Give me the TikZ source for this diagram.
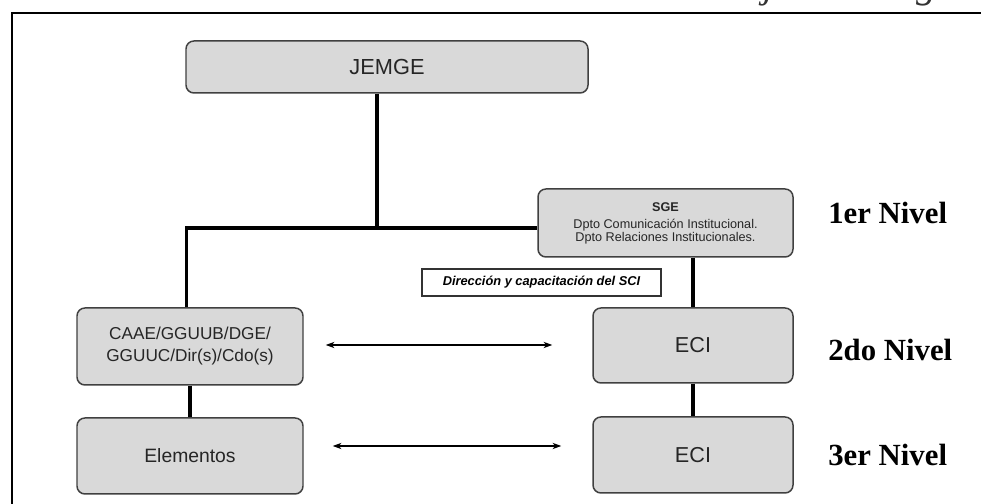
\documentclass[tikz,border=0pt]{standalone}
\usepackage{fontspec}
\setmainfont{Liberation Serif}
\setsansfont{Liberation Sans}
\usetikzlibrary{arrows.meta,calc}

\definecolor{boxgray}{HTML}{D9D9D9}
\definecolor{edgegray}{HTML}{404040}

\begin{document}
\begin{tikzpicture}[
    unit/.style={draw=edgegray, line width=0.85pt, fill=boxgray, rounded corners=4.5pt,
        text=black!85, align=center, inner sep=0pt},
    conn/.style={line width=1.9pt},
    link/.style={{Stealth[length=5pt,width=3.6pt]}-{Stealth[length=5pt,width=3.6pt]}, line width=0.6pt},
    level/.style={font=\rmfamily\bfseries\fontsize{17.5}{20}\selectfont, anchor=west, inner sep=0pt}
]
    \useasboundingbox (0,0) rectangle (19.62,10.08);
    \clip (0,0) rectangle (19.62,10.08);

    % Caption (cut off at the top)
    \node[anchor=base east, inner sep=0pt, text=black!80, font=\rmfamily\itshape\fontsize{23}{26}\selectfont] (caption) at (20.76,10.13)
        {Estructura del Sistema de Comunicación Institucional del Ejército Argentino};

    % Frame
    \draw[line width=1.4pt] (0.24,-1) rectangle (20.5,9.82);

    % Units
    \node[unit, minimum width=8.04cm, minimum height=1.04cm, font=\sffamily\fontsize{12.4}{14}\selectfont] (jemge) at (7.74,8.74) {JEMGE};
    \node[unit, minimum width=5.1cm, minimum height=1.36cm, font=\sffamily\fontsize{7.2}{6.9}\selectfont] (sge) at (13.31,5.62)
        {\textbf{SGE}\\[3.3pt] Dpto Comunicación Institucional.\\ Dpto Relaciones Institucionales.};
    \node[unit, minimum width=4.52cm, minimum height=1.54cm, font=\sffamily\fontsize{9.8}{12.5}\selectfont] (caae) at (3.8,3.15)
        {CAAE/GGUUB/DGE/\\GGUUC/Dir(s)/Cdo(s)};
    \node[unit, minimum width=4.52cm, minimum height=1.52cm, font=\sffamily\fontsize{11}{13}\selectfont] (elem) at (3.8,0.96) {Elementos};
    \node[unit, minimum width=4cm, minimum height=1.5cm, font=\sffamily\fontsize{12.3}{14}\selectfont] (eci1) at (13.86,3.17) {ECI};
    \node[unit, minimum width=4cm, minimum height=1.52cm, font=\sffamily\fontsize{12.3}{14}\selectfont] (eci2) at (13.86,0.98) {ECI};

    % Note box
    \node[draw=black!80, line width=0.8pt, fill=white, minimum width=4.78cm, minimum height=0.54cm, inner sep=0pt,
        font=\sffamily\bfseries\itshape\fontsize{7.3}{9}\selectfont] (sci) at (10.83,4.43) {Dirección y capacitación del SCI};

    % Connectors
    \coordinate (hub) at (7.54,5.52);
    \draw[conn] (jemge.south -| hub) -- (hub);
    \draw[conn] ([xshift=-0.07cm]caae.north) |- (hub) -- (hub -| sge.west);
    \draw[conn] (sge.south -| eci1.north) -- (eci1.north);
    \draw[conn] (caae) -- (elem);
    \draw[conn] (eci1) -- (eci2);

    % Two-way links
    \draw[link] ($(caae.east)+(0.44,0.03)$) -- ($(caae.east -| eci1.west)+(-0.8,0.03)$);
    \draw[link] ($(elem.east)+(0.58,0.2)$) -- ($(elem.east -| eci2.west)+(-0.62,0.2)$);

    % Levels
    \foreach \name/\y/\txt in {lvl1/5.82/1er Nivel, lvl2/3.08/2do Nivel, lvl3/0.98/3er Nivel} {
        \node[level] (\name) at (16.56,\y) {\txt};
    }
\end{tikzpicture}
\end{document}
